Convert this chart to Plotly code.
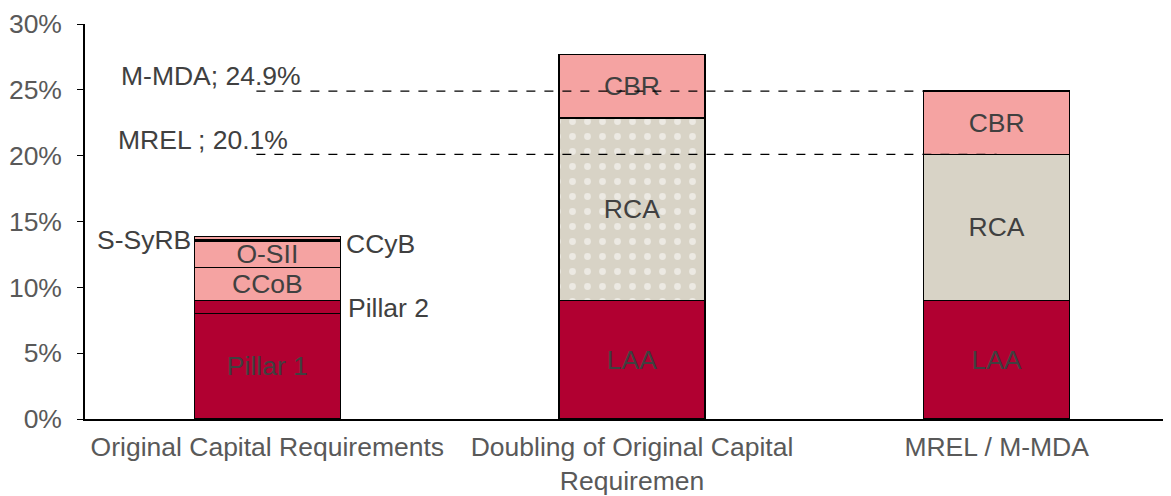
import plotly.graph_objects as go

categories = ["Original Capital Requirements", "Doubling of Original Capital<br>Requiremen", "MREL / M-MDA"]
pillar1 = [8.0, None, None]
pillar2 = [1.0, None, None]
ccob = [2.5, None, None]
osii = [2.0, None, None]
ccyb = [0.1, None, None]
ssyrb = [0.25, None, None]
laa = [None, 9.0, 9.0]
rca = [None, 13.85, 11.1]
cbr = [None, 4.85, 4.8]
mmda_level = 24.9
mrel_level = 20.1
y_ticks = [0, 5, 10, 15, 20, 25, 30]
y_tick_labels = [f"{v}%" for v in y_ticks]

CRIMSON = "#b10031"
PINK = "#f5a3a2"
BEIGE = "#d8d3c6"
TXT = "#404040"
FONT = "Arial, Liberation Sans, sans-serif"
FS = 26.5

x = list(range(len(categories)))
fig = go.Figure()

def add(vals, color, label=None, pattern=None):
    kw = {}
    if pattern is not None:
        kw["marker_pattern"] = pattern
    fig.add_trace(go.Bar(
        x=x, y=vals,
        marker=dict(color=color, line=dict(color="black", width=1.5)),
        text=[label if v is not None else None for v in vals] if label else None,
        textposition="inside", insidetextanchor="middle",
        textfont=dict(color=TXT, size=FS, family=FONT),
        hoverinfo="skip", showlegend=False, **kw))

add(pillar1, CRIMSON, "Pillar 1")
add(pillar2, CRIMSON)
add(ccob, PINK, "CCoB")
add(osii, PINK, "O-SII")
add(ccyb, CRIMSON)
add(ssyrb, PINK)
add(laa, CRIMSON, "LAA")
add(rca, BEIGE, "RCA", pattern=dict(shape=["", ".", ""], fgcolor="white", bgcolor=BEIGE,
                                     size=15, solidity=0.16, fillmode="overlay"))
add(cbr, PINK, "CBR")

for lvl in (mmda_level, mrel_level):
    fig.add_shape(type="line", xref="x", yref="y", x0=-0.03, x1=2, y0=lvl, y1=lvl,
                  line=dict(color="black", width=1.3, dash="dash"), layer="above")

ann = dict(showarrow=False, font=dict(size=FS, color=TXT, family=FONT), xref="x", yref="y")
fig.add_annotation(text=f"M-MDA; {mmda_level}%", x=-0.155, y=26.05, **ann)
fig.add_annotation(text=f"MREL ; {mrel_level}%", x=-0.177, y=21.2, **ann)
fig.add_annotation(text="Pillar 2", x=0.216, y=8.43, xanchor="left", **ann)
fig.add_annotation(text="CCyB", x=0.211, y=13.29, xanchor="left", **ann)
fig.add_annotation(text="S-SyRB", x=-0.204, y=13.6, xanchor="right", **ann)

fig.update_layout(
    width=1171, height=496, barmode="stack", bargap=0.6,
    margin=dict(l=77, r=0, t=16, b=85, autoexpand=False),
    plot_bgcolor="white", paper_bgcolor="white",
    font=dict(family=FONT, size=FS, color="#595959"),
    uniformtext=dict(minsize=FS, mode="show"),
)
fig.update_xaxes(tickmode="array", tickvals=x, ticktext=categories, range=[-0.5, 2.5],
                 showline=True, linecolor="black", linewidth=1.5, ticks="",
                 showgrid=False, zeroline=False, ticklabelstandoff=3, automargin=False,
                 tickfont=dict(size=FS, color="#595959"))
fig.update_yaxes(range=[0, 30], tickmode="array", tickvals=y_ticks, ticktext=y_tick_labels,
                 showline=True, automargin=False,
                 linecolor="black", linewidth=1.5, ticks="outside", ticklen=6,
                 tickcolor="black", showgrid=False, zeroline=False, ticklabelstandoff=10,
                 tickfont=dict(size=FS, color="#595959"))

fig.write_html("out.html")
